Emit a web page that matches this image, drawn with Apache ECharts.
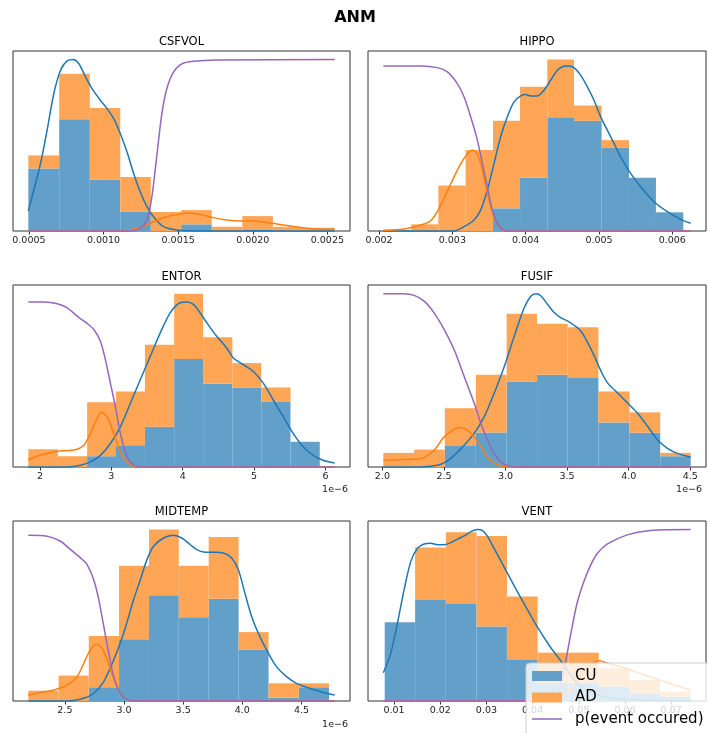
<!DOCTYPE html>
<html>
<head>
<meta charset="utf-8">
<script src="https://cdn.jsdelivr.net/npm/echarts@6/dist/echarts.min.js"></script>
<style>html,body{margin:0;padding:0;background:#fff}#c{width:708px;height:733px}</style>
</head>
<body>
<div id="c"></div>
<script>
// y values are in relative units (axes are unlabeled); x in data units.
// ENTOR / FUSIF / MIDTEMP x values are in units of 1e-6.

// ---------- CSFVOL ----------
const csfvolEdges = [0.000496, 0.000703, 0.000908, 0.001112, 0.001317, 0.001520, 0.001725, 0.001930, 0.002135, 0.002337, 0.002549];
const csfvolCU = [0.365, 0.652, 0.301, 0.113, 0, 0.039, 0, 0.010, 0, 0];
const csfvolAD = [0.076, 0.266, 0.416, 0.202, 0.111, 0.083, 0.025, 0.077, 0.025, 0.019];
const csfvolKdeCU = [[0.000496,0.117],[0.000533,0.239],[0.000578,0.394],[0.000622,0.588],[0.000667,0.802],[0.000712,0.938],[0.000756,0.992],[0.000796,1.0],[0.000834,0.977],[0.000879,0.899],[0.000923,0.831],[0.000979,0.763],[0.001023,0.715],[0.001068,0.656],[0.001112,0.569],[0.001157,0.462],[0.001202,0.336],[0.001246,0.229],[0.001291,0.142],[0.001335,0.083],[0.001402,0.025],[0.001491,0.006],[0.001647,0],[0.002549,0]];
const csfvolKdeAD = [[0.000496,0],[0.001068,0],[0.001157,0.006],[0.001246,0.021],[0.001335,0.054],[0.001424,0.083],[0.001513,0.099],[0.001569,0.105],[0.001647,0.097],[0.001736,0.078],[0.001825,0.064],[0.001914,0.058],[0.002003,0.058],[0.002092,0.049],[0.002204,0.035],[0.002315,0.021],[0.002427,0.012],[0.002549,0.010]];
const csfvolProb = [[0.000496,0],[0.001112,0],[0.001202,0.002],[0.001246,0.015],[0.001291,0.064],[0.001324,0.2],[0.001346,0.355],[0.001369,0.53],[0.001391,0.685],[0.001424,0.83],[0.001469,0.927],[0.001525,0.975],[0.001603,0.99],[0.001758,0.998],[0.002549,1.0]];
const csfvolTicks = [0.0005, 0.0010, 0.0015, 0.0020, 0.0025];

// ---------- HIPPO ----------
const hippoEdges = [0.002068, 0.002441, 0.002809, 0.003182, 0.003555, 0.003923, 0.004295, 0.004659, 0.005036, 0.005409, 0.005777, 0.006150];
const hippoCU = [0, 0, 0, 0, 0.132, 0.311, 0.664, 0.643, 0.487, 0.311, 0.109];
const hippoAD = [0, 0.039, 0.266, 0.472, 0.511, 0.530, 0.336, 0.089, 0.043, 0, 0];
const hippoKdeCU = [[0.002059,0],[0.003023,0],[0.003159,0.025],[0.003295,0.064],[0.003386,0.122],[0.003477,0.239],[0.003568,0.394],[0.003659,0.55],[0.00375,0.666],[0.003841,0.753],[0.003932,0.788],[0.004,0.796],[0.004068,0.788],[0.004159,0.788],[0.00425,0.821],[0.004341,0.88],[0.004432,0.938],[0.004523,0.961],[0.004591,0.963],[0.004659,0.953],[0.00475,0.909],[0.004841,0.841],[0.004932,0.763],[0.005023,0.666],[0.005114,0.588],[0.005205,0.511],[0.005295,0.433],[0.005432,0.336],[0.005568,0.258],[0.00575,0.171],[0.005932,0.113],[0.006114,0.068],[0.00625,0.045]];
const hippoKdeAD = [[0.002059,0.004],[0.002341,0.012],[0.002614,0.041],[0.002705,0.06],[0.002795,0.113],[0.002886,0.19],[0.002977,0.274],[0.003068,0.355],[0.003159,0.423],[0.003273,0.472],[0.003341,0.449],[0.003409,0.355],[0.003477,0.219],[0.003568,0.083],[0.003659,0.016],[0.00375,0],[0.00625,0]];
const hippoProb = [[0.002059,0.963],[0.002568,0.963],[0.002795,0.953],[0.002932,0.928],[0.003068,0.86],[0.003159,0.783],[0.00325,0.666],[0.003341,0.53],[0.003409,0.394],[0.003477,0.258],[0.003545,0.122],[0.003614,0.045],[0.003682,0.01],[0.00375,0],[0.00625,0]];
const hippoTicks = [0.002, 0.003, 0.004, 0.005, 0.006];

// ---------- ENTOR (x in 1e-6) ----------
const entorEdges = [1.837, 2.251, 2.661, 3.066, 3.471, 3.881, 4.286, 4.696, 5.101, 5.511, 5.921];
const entorCU = [0, 0, 0.062, 0.125, 0.231, 0.620, 0.478, 0.457, 0.374, 0.145];
const entorAD = [0.102, 0.062, 0.310, 0.309, 0.472, 0.376, 0.268, 0.140, 0.083, 0];
const entorKdeCU = [[1.837,0],[2.382,0],[2.568,0.01],[2.708,0.029],[2.847,0.067],[2.987,0.135],[3.127,0.231],[3.267,0.366],[3.406,0.501],[3.546,0.636],[3.686,0.771],[3.825,0.886],[3.965,0.944],[4.058,0.948],[4.151,0.934],[4.244,0.886],[4.338,0.829],[4.477,0.751],[4.617,0.684],[4.710,0.626],[4.850,0.588],[4.990,0.549],[5.129,0.482],[5.269,0.385],[5.409,0.289],[5.548,0.193],[5.688,0.116],[5.828,0.067],[5.967,0.039],[6.130,0.023]];
const entorKdeAD = [[1.837,0.042],[1.963,0.062],[2.102,0.079],[2.242,0.091],[2.382,0.094],[2.522,0.102],[2.615,0.125],[2.708,0.193],[2.801,0.279],[2.861,0.314],[2.941,0.289],[3.034,0.193],[3.127,0.087],[3.220,0.029],[3.313,0.006],[3.406,0],[6.130,0]];
const entorProb = [[1.837,0.948],[2.056,0.948],[2.242,0.938],[2.382,0.915],[2.522,0.867],[2.661,0.825],[2.754,0.79],[2.847,0.723],[2.917,0.617],[2.987,0.482],[3.057,0.347],[3.127,0.193],[3.220,0.058],[3.313,0.01],[3.406,0],[6.130,0]];
const entorTicks = [2, 3, 4, 5, 6];

// ---------- FUSIF (x in 1e-6) ----------
const fusifEdges = [2.008, 2.258, 2.507, 2.759, 3.009, 3.256, 3.505, 3.754, 4.007, 4.256, 4.503];
const fusifCU = [0, 0, 0.121, 0.198, 0.491, 0.530, 0.511, 0.256, 0.197, 0.062];
const fusifAD = [0.081, 0.100, 0.216, 0.332, 0.390, 0.293, 0.292, 0.178, 0.117, 0.019];
const fusifKdeCU = [[2.008,0],[2.312,0],[2.447,0.01],[2.515,0.029],[2.583,0.067],[2.664,0.125],[2.746,0.193],[2.827,0.289],[2.908,0.424],[2.990,0.578],[3.044,0.694],[3.098,0.809],[3.152,0.915],[3.207,0.983],[3.247,0.996],[3.288,0.983],[3.342,0.934],[3.396,0.886],[3.451,0.857],[3.505,0.838],[3.559,0.813],[3.613,0.78],[3.668,0.713],[3.722,0.636],[3.776,0.549],[3.830,0.482],[3.912,0.424],[3.993,0.366],[4.074,0.308],[4.156,0.231],[4.237,0.154],[4.318,0.106],[4.400,0.077],[4.503,0.058]];
const fusifKdeAD = [[2.008,0.039],[2.122,0.042],[2.258,0.044],[2.339,0.054],[2.420,0.096],[2.502,0.173],[2.583,0.216],[2.637,0.227],[2.691,0.212],[2.746,0.173],[2.800,0.116],[2.854,0.058],[2.908,0.023],[2.963,0.006],[3.017,0],[4.503,0]];
const fusifProb = [[2.008,0.996],[2.176,0.996],[2.258,0.986],[2.339,0.953],[2.420,0.886],[2.502,0.79],[2.583,0.674],[2.664,0.52],[2.746,0.366],[2.800,0.25],[2.854,0.154],[2.908,0.077],[2.963,0.029],[3.017,0.008],[3.071,0],[4.503,0]];
const fusifTicks = [2.0, 2.5, 3.0, 3.5, 4.0, 4.5];

// ---------- MIDTEMP (x in 1e-6) ----------
const midtempEdges = [2.191, 2.447, 2.702, 2.958, 3.211, 3.463, 3.716, 3.969, 4.222, 4.478, 4.733];
const midtempCU = [0, 0, 0.080, 0.360, 0.615, 0.488, 0.595, 0.298, 0.019, 0.080];
const midtempAD = [0.060, 0.148, 0.299, 0.428, 0.383, 0.300, 0.360, 0.103, 0.084, 0.023];
const midtempKdeCU = [[2.191,0],[2.520,0],[2.660,0.016],[2.744,0.045],[2.829,0.113],[2.913,0.239],[2.997,0.395],[3.081,0.589],[3.138,0.706],[3.194,0.823],[3.250,0.901],[3.334,0.949],[3.419,0.965],[3.489,0.949],[3.559,0.911],[3.615,0.881],[3.671,0.868],[3.756,0.866],[3.840,0.862],[3.910,0.833],[3.966,0.765],[4.022,0.628],[4.079,0.492],[4.135,0.395],[4.205,0.298],[4.289,0.2],[4.374,0.142],[4.458,0.103],[4.570,0.074],[4.683,0.049],[4.781,0.035]];
const midtempKdeAD = [[2.191,0.035],[2.295,0.049],[2.407,0.064],[2.520,0.093],[2.604,0.142],[2.660,0.22],[2.716,0.298],[2.767,0.331],[2.815,0.307],[2.857,0.239],[2.913,0.132],[2.969,0.045],[3.025,0.01],[3.081,0],[4.781,0]];
const midtempProb = [[2.191,0.965],[2.351,0.959],[2.463,0.93],[2.548,0.881],[2.632,0.833],[2.688,0.794],[2.744,0.706],[2.787,0.589],[2.829,0.434],[2.871,0.278],[2.913,0.142],[2.969,0.045],[3.025,0.01],[3.081,0],[4.781,0]];
const midtempTicks = [2.5, 3.0, 3.5, 4.0, 4.5];

// ---------- VENT ----------
const ventEdges = [0.00798, 0.01456, 0.02121, 0.02786, 0.03444, 0.04109, 0.04774, 0.05432, 0.06098, 0.06763, 0.07421];
const ventCU = [0.459, 0.589, 0.566, 0.434, 0.239, 0.105, 0.107, 0.084, 0.045, 0.025];
const ventAD = [0, 0.306, 0.418, 0.529, 0.370, 0.177, 0.175, 0.107, 0.078, 0.029];
const ventKdeCU = [[0.007686,0.165],[0.009277,0.278],[0.010723,0.453],[0.012169,0.648],[0.013615,0.813],[0.015061,0.891],[0.016508,0.916],[0.017954,0.92],[0.0194,0.911],[0.020846,0.911],[0.022292,0.924],[0.023738,0.944],[0.025184,0.963],[0.026631,0.988],[0.028077,1.0],[0.029161,0.994],[0.030246,0.96],[0.031475,0.899],[0.033,0.823],[0.034512,0.747],[0.037332,0.607],[0.04102,0.432],[0.043839,0.315],[0.046442,0.222],[0.049046,0.123],[0.051938,0.06],[0.055553,0.025],[0.059168,0.01],[0.074208,0]];
const ventKdeAD = [[0.007686,0],[0.041815,0],[0.044707,0.012],[0.0476,0.05],[0.050492,0.15],[0.052661,0.215],[0.054469,0.235],[0.056276,0.22],[0.059168,0.2],[0.061338,0.181],[0.06423,0.152],[0.067845,0.119],[0.070738,0.093],[0.074208,0.064]];
const ventProb = [[0.007686,0],[0.041815,0],[0.043261,0.004],[0.044707,0.02],[0.045792,0.07],[0.047093,0.222],[0.048322,0.4],[0.049624,0.57],[0.051,0.69],[0.052516,0.79],[0.054,0.86],[0.056132,0.915],[0.06047,0.969],[0.065531,0.995],[0.074208,1.0]];
const ventTicks = [0.01, 0.02, 0.03, 0.04, 0.05, 0.06, 0.07];

const figTitle = 'ANM';
const legendNames = ['CU', 'AD', 'p(event occured)'];

// ---------- layout / styles ----------
const FONT = 'DejaVu Sans';
const C_CU = '#62a0ca', C_AD = '#ffa556';
const L_CU = '#1f77b4', L_AD = '#ff7f0e', L_P = '#9467bd';

const panels = [
  {name:'CSFVOL', edges:csfvolEdges, cu:csfvolCU, ad:csfvolAD, kcu:csfvolKdeCU, kad:csfvolKdeAD, prob:csfvolProb, ticks:csfvolTicks, dec:4},
  {name:'HIPPO', edges:hippoEdges, cu:hippoCU, ad:hippoAD, kcu:hippoKdeCU, kad:hippoKdeAD, prob:hippoProb, ticks:hippoTicks, dec:3},
  {name:'ENTOR', edges:entorEdges, cu:entorCU, ad:entorAD, kcu:entorKdeCU, kad:entorKdeAD, prob:entorProb, ticks:entorTicks, dec:0},
  {name:'FUSIF', edges:fusifEdges, cu:fusifCU, ad:fusifAD, kcu:fusifKdeCU, kad:fusifKdeAD, prob:fusifProb, ticks:fusifTicks, dec:1},
  {name:'MIDTEMP', edges:midtempEdges, cu:midtempCU, ad:midtempAD, kcu:midtempKdeCU, kad:midtempKdeAD, prob:midtempProb, ticks:midtempTicks, dec:1},
  {name:'VENT', edges:ventEdges, cu:ventCU, ad:ventAD, kcu:ventKdeCU, kad:ventKdeAD, prob:ventProb, ticks:ventTicks, dec:2}
];
const layout = [
  {left:13, top:51, width:337, height:180, titleTop:36},
  {left:368, top:51, width:338, height:180, titleTop:36},
  {left:13, top:285, width:337, height:182, titleTop:271},
  {left:368, top:285, width:338, height:182, titleTop:271},
  {left:13, top:521, width:337, height:180, titleTop:506},
  {left:368, top:521, width:338, height:180, titleTop:506}
];

function makeRender(color) {
  return function (params, api) {
    const y0 = api.value(2), y1 = api.value(3);
    if (!(y1 > y0)) return null;
    const a = api.coord([api.value(0), y1]);
    const b = api.coord([api.value(1), y0]);
    return {type:'rect', shape:{x:a[0], y:a[1], width:b[0]-a[0], height:b[1]-a[1]}, style:{fill:color}};
  };
}

const grids = [], xAxes = [], yAxes = [], series = [], titles = [];
titles.push({text: figTitle, left: 355, top: 10, textAlign:'center', padding:0,
  textStyle:{fontFamily:FONT, fontSize:16, fontWeight:'bold', color:'#000'}});

panels.forEach((p, i) => {
  const L = layout[i];
  grids.push({left:L.left, top:L.top, width:L.width, height:L.height, show:true,
    borderColor:'#333', borderWidth:1, backgroundColor:'rgba(0,0,0,0)'});
  const xs = [p.edges[0], p.edges[p.edges.length-1], p.kcu[0][0], p.kcu[p.kcu.length-1][0], p.prob[0][0], p.prob[p.prob.length-1][0]];
  const dmin = Math.min(...xs), dmax = Math.max(...xs), pad = (dmax - dmin) * 0.05;
  xAxes.push({type:'value', gridIndex:i, min:dmin - pad, max:dmax + pad,
    axisLine:{show:false}, splitLine:{show:false},
    axisTick:{show:true, length:3.5, customValues:p.ticks, lineStyle:{color:'#333', width:1}},
    axisLabel:{customValues:p.ticks, formatter:(v)=>v.toFixed(p.dec), fontFamily:FONT, fontSize:9.5, color:'#222', margin:5}});
  const tot = p.cu.map((v,k)=>v + p.ad[k]);
  const ymax = Math.max(...tot, ...p.kcu.map(d=>d[1]), ...p.kad.map(d=>d[1]), ...p.prob.map(d=>d[1]));
  yAxes.push({type:'value', gridIndex:i, min:0, max:ymax*1.05, show:false});
  titles.push({text:p.name, left:L.left + L.width/2, top:L.titleTop, textAlign:'center', padding:0,
    textStyle:{fontFamily:FONT, fontSize:11.5, fontWeight:'normal', color:'#000'}});

  series.push({type:'custom', name:legendNames[0], xAxisIndex:i, yAxisIndex:i, z:1,
    renderItem:makeRender(C_CU), itemStyle:{color:C_CU}, encode:{x:[0,1], y:[2,3]},
    data:p.cu.map((v,k)=>[p.edges[k], p.edges[k+1], 0, v])});
  series.push({type:'custom', name:legendNames[1], xAxisIndex:i, yAxisIndex:i, z:1,
    renderItem:makeRender(C_AD), itemStyle:{color:C_AD}, encode:{x:[0,1], y:[2,3]},
    data:p.ad.map((v,k)=>[p.edges[k], p.edges[k+1], p.cu[k], p.cu[k]+v])});
  const lineBase = {type:'line', xAxisIndex:i, yAxisIndex:i, symbol:'none', showSymbol:false,
    smooth:0.3, clip:false, silent:true};
  series.push(Object.assign({}, lineBase, {name:'CU kde', z:3, data:p.kcu, itemStyle:{color:L_CU}, lineStyle:{color:L_CU, width:1.5}}));
  series.push(Object.assign({}, lineBase, {name:'AD kde', z:4, data:p.kad, itemStyle:{color:L_AD}, lineStyle:{color:L_AD, width:1.5}}));
  series.push(Object.assign({}, lineBase, {name:legendNames[2], z:5, data:p.prob, itemStyle:{color:L_P}, lineStyle:{color:L_P, width:1.5}}));
});

const option = {
  animation:false,
  backgroundColor:'#fff',
  title:titles,
  grid:grids, xAxis:xAxes, yAxis:yAxes, series:series,
  legend:{
    data:[{name:legendNames[0], icon:'rect'}, {name:legendNames[1], icon:'rect'},
          {name:legendNames[2], icon:'path://M0,0H30V1.5H0Z', itemStyle:{color:L_P}}],
    orient:'vertical', left:526, top:663, height:120, z:20, selectedMode:false,
    padding:[5,12,14,6], itemWidth:30, itemHeight:10, itemGap:5.5,
    backgroundColor:'rgba(255,255,255,0.8)', borderColor:'#cccccc', borderWidth:1, borderRadius:4,
    textStyle:{fontFamily:FONT, fontSize:15, color:'#000', lineHeight:16, padding:[0,0,0,8]}
  },
  graphic:[
    {type:'text', x:348, y:490, style:{text:'1e\u22126', fontFamily:FONT, fontSize:9.5, fill:'#222', textAlign:'right', textVerticalAlign:'middle'}},
    {type:'text', x:702, y:490, style:{text:'1e\u22126', fontFamily:FONT, fontSize:9.5, fill:'#222', textAlign:'right', textVerticalAlign:'middle'}},
    {type:'text', x:348, y:725, style:{text:'1e\u22126', fontFamily:FONT, fontSize:9.5, fill:'#222', textAlign:'right', textVerticalAlign:'middle'}}
  ]
};
const chart = echarts.init(document.getElementById('c'), null, {renderer:'canvas'});
chart.setOption(option);
</script>
</body>
</html>
